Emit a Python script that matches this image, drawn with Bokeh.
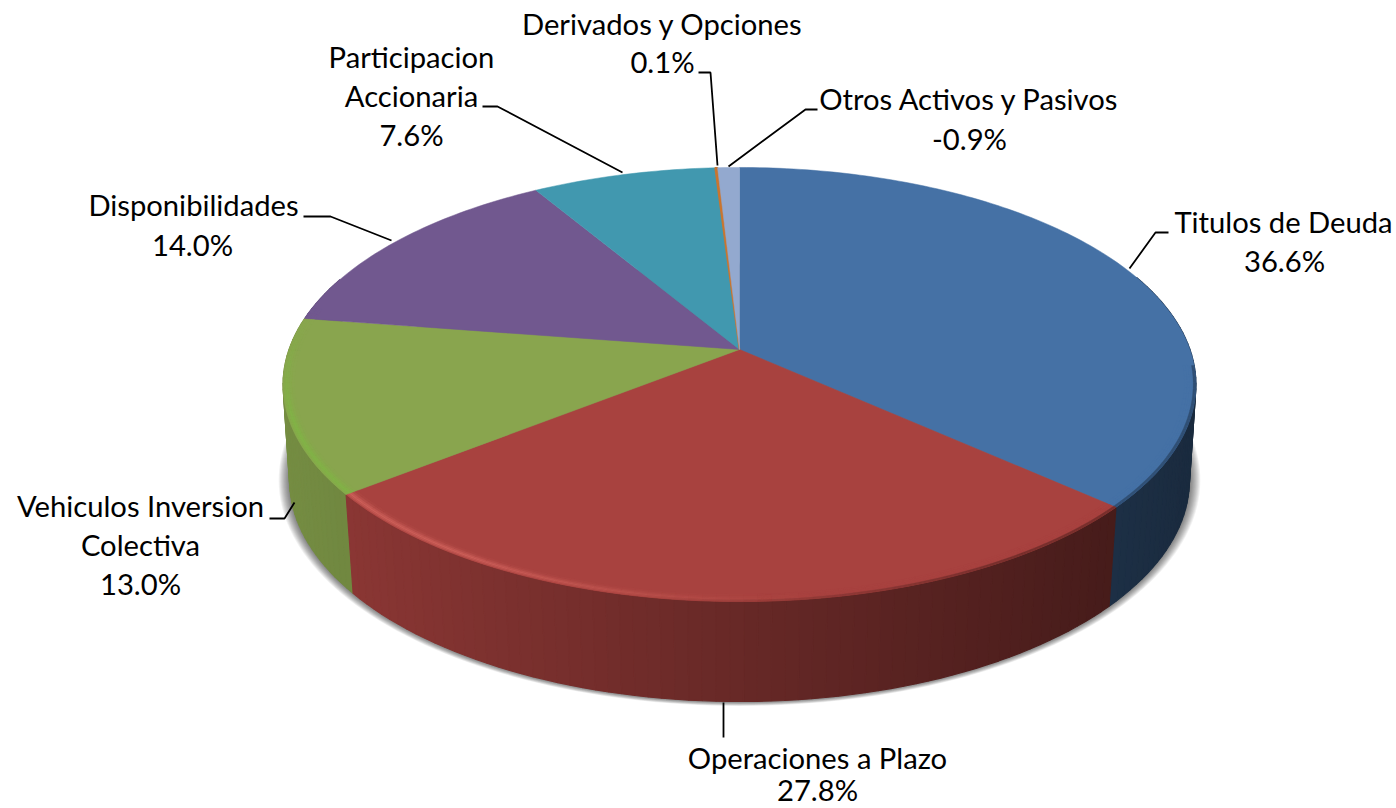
import numpy as np
from bokeh.plotting import figure
from bokeh.models import Range1d, ColumnDataSource
from bokeh.core.properties import value
from bokeh.embed import file_html
from bokeh.resources import INLINE

# ---- data ----
categories = ["Titulos de Deuda", "Operaciones a Plazo", "Vehiculos Inversion Colectiva",
              "Disponibilidades", "Participacion Accionaria", "Derivados y Opciones",
              "Otros Activos y Pasivos"]
percent = [36.6, 27.8, 13.0, 14.0, 7.6, 0.1, -0.9]

# ---- styles ----
colors = ["#4571A5", "#A8423F", "#89A54E", "#71588F", "#4198AF", "#C9752F", "#93A9CF"]
rim_colors = ["#4571A5", "#D0625C", "#80B545", "#71588F", "#4198AF", "#C9752F", "#93A9CF"]
edge_widths = [0.5, 0.5, 0.5, 0.5, 0.5, 1.6, 0.5]
FONT = "Lato"
FONT_SIZE = "29.2px"

# ---- layout of the pseudo-3D pie, in page pixels ----
CX, CY = 739.0, 349.0      # apex of the pie
A, B, K = 450.5, 211.4, 0.1613   # perspective projection of the top circle


def top(t, r=1.0):
    w = 1 + K * r * np.cos(t)
    return CX + A * r * np.sin(t) / w, CY - B * r * np.cos(t) / w


def bot(t, e=0.0, ey=0.0):
    x, y = top(t)
    u = x - CX
    v = np.cos(t)
    shrink = 0.987 + 0.008 * v
    depth = 97.0 - 3.0 * v
    return CX + u * shrink + e * np.sign(u) * np.abs(np.sin(t)), y + depth + ey * np.abs(v)


def mix(c, other, f):
    return tuple(c[i] * (1 - f) + other[i] * f for i in range(3))


def rgb(h):
    return tuple(int(h[i:i + 2], 16) for i in (1, 3, 5))


def hx(c):
    return "#%02x%02x%02x" % tuple(int(round(max(0, min(255, v)))) for v in c)


magn = np.abs(np.array(percent, dtype=float))
edges = np.concatenate([[0], np.cumsum(magn)]) / magn.sum() * 2 * np.pi

p = figure(width=1396, height=808, x_range=Range1d(0, 1396), y_range=Range1d(808, 0),
           output_backend="svg", toolbar_location=None, x_axis_type=None, y_axis_type=None,
           min_border=0, outline_line_color=None, background_fill_color="white")
p.grid.visible = False

# soft shadow below the wall
full = np.linspace(0, 2 * np.pi, 241)
sx, sy = [], []
for e in np.arange(11, 0, -1.0):
    bx, by = bot(full, e, e * 0.4)
    sx.append(list(bx)); sy.append(list(by))
p.patches(sx, sy, fill_color="black", fill_alpha=0.055, line_color=None)

# outer wall, back to front
STEP = np.radians(1.5)
wx, wy, wc = [], [], []
for i in range(len(magn)):
    n = max(1, int(np.ceil((edges[i + 1] - edges[i]) / STEP)))
    ts = np.linspace(edges[i], edges[i + 1], n + 1)
    for a, b in zip(ts[:-1], ts[1:]):
        if np.cos((a + b) / 2) > 0.35:
            continue
        xa, ya = top(a); xb, yb = top(b)
        xc, yc = bot(b); xd, yd = bot(a)
        u = ((xa + xb) / 2 - CX) / A
        f = 0.615 - 0.235 * u
        wx.append([xa, xb, xc, xd]); wy.append([ya, yb, yc, yd])
        wc.append(hx(tuple(v * f for v in rgb(colors[i]))))
order = np.argsort([-(y[0] + y[1]) for y in wy])[::-1]
p.patches([wx[j] for j in order], [wy[j] for j in order],
          fill_color=[wc[j] for j in order], line_color=[wc[j] for j in order], line_width=1.1)

# top face
STEP_T = np.radians(1.0)
fx, fy = [], []
for i in range(len(magn)):
    n = max(2, int(np.ceil((edges[i + 1] - edges[i]) / STEP_T)))
    ts = np.linspace(edges[i], edges[i + 1], n + 1)
    x, y = top(ts)
    fx.append([CX] + list(x)); fy.append([CY] + list(y))
p.patches(fx, fy, fill_color=colors, line_color=colors, line_width=edge_widths)

# rim bevel: saturated highlight at the lower left, darker blur towards the wall at the right
rings = [0.975, 0.981, 0.986, 0.990, 0.994, 0.998, 1.0]
gain = [0.08, 0.30, 0.65, 0.90, 0.65, 0.30]
RSTEP = np.radians(1.5)
bx_, by_, bc_ = [], [], []
for i in range(len(magn)):
    n = max(1, int(np.ceil((edges[i + 1] - edges[i]) / RSTEP)))
    ts = np.linspace(edges[i], edges[i + 1], n + 1)
    base = rgb(colors[i])
    tint = rgb(rim_colors[i])
    for a, b in zip(ts[:-1], ts[1:]):
        m = (a + b) / 2
        deg = np.degrees(m)
        if not 95 <= deg <= 282:
            continue
        h = np.clip((deg - 172) / 40, 0, 1) * np.clip((280 - deg) / 30, 0, 1)
        dark = np.clip((190 - deg) / 40, 0, 1) * 0.30
        for r0, r1, g in zip(rings[:-1], rings[1:], gain):
            c = mix(base, tint, h * g)
            if r0 >= 0.994:
                c = mix(c, (0, 0, 0), dark)
            xa, ya = top(a, r0); xb, yb = top(b, r0)
            xc, yc = top(b, r1); xd, yd = top(a, r1)
            bx_.append([xa, xb, xc, xd]); by_.append([ya, yb, yc, yd]); bc_.append(hx(c))
p.patches(bx_, by_, fill_color=bc_, line_color=bc_, line_width=0.3)

# leader lines
leader_x = [[1168, 1155, 1129], [723, 723], [269, 284, 294], [303, 330, 391],
            [482, 497, 622], [698, 710, 717], [817, 805, 728]]
leader_y = [[232, 232, 268], [702, 737], [518, 518, 502], [216, 216, 240],
            [106, 106, 172], [72, 72, 165], [109, 109, 166]]
p.multi_line(leader_x, leader_y, line_color="black", line_width=1.8)

# labels
label_text = ["Titulos de Deuda", "36.6%", "Operaciones a Plazo", "27.8%",
              "Vehiculos Inversion", "Colectiva", "13.0%", "Disponibilidades", "14.0%",
              "Participacion", "Accionaria", "7.6%", "Derivados y Opciones", "0.1%",
              "Otros Activos y Pasivos", "-0.9%"]
label_x = [1283, 1284, 817, 817, 140, 140, 140, 193, 192, 411, 411, 411, 662, 662, 969, 969]
label_y = [221, 260, 757, 789, 505, 544, 583, 204, 244, 56, 95, 134, 23, 61, 98, 138]
src = ColumnDataSource(dict(x=label_x, y=label_y, t=label_text))
p.text("x", "y", text="t", source=src, text_font=value(FONT), text_font_size=value(FONT_SIZE),
       text_align="center", text_baseline="middle", text_color="black")

open("out.html", "w").write(file_html(p, INLINE))
